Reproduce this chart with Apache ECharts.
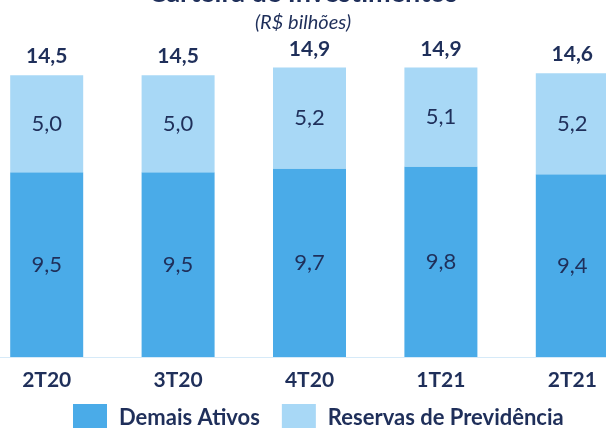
<!DOCTYPE html>
<html>
<head>
<meta charset="utf-8">
<script src="https://cdn.jsdelivr.net/npm/echarts@6/dist/echarts.min.js"></script>
<style>
  html, body { margin: 0; padding: 0; background: #ffffff; }
  #chart { width: 606px; height: 428px; }
</style>
</head>
<body>
<div id="chart"></div>
<script>
// Quarters shown on the x axis
var quarters = ['2T20', '3T20', '4T20', '1T21', '2T21'];
// Portfolio split, R$ billions
var demaisAtivos = [9.5, 9.5, 9.7, 9.8, 9.4];
var reservasPrevidencia = [5.0, 5.0, 5.2, 5.1, 5.2];

var totals = demaisAtivos.map(function (v, i) {
  return Math.round((v + reservasPrevidencia[i]) * 10) / 10;
});

var navy = '#1F2F5A';
var fontFamily = 'Lato, "Open Sans", sans-serif';

function fmt(v) {
  return v.toFixed(1).replace('.', ',');
}

var chart = echarts.init(document.getElementById('chart'), null, { renderer: 'canvas' });

chart.setOption({
  animation: false,
  textStyle: { fontFamily: fontFamily, color: navy },
  title: [
    {
      text: 'Carteira de Investimentos',
      left: 'center',
      top: -25,
      textStyle: { fontFamily: fontFamily, fontSize: 27, fontWeight: 'bold', color: navy }
    },
    {
      text: '(R$ bilhões)',
      left: 'center',
      top: 8,
      textStyle: { fontFamily: fontFamily, fontSize: 20, fontStyle: 'italic', fontWeight: 'normal', color: navy }
    }
  ],
  legend: {
    top: 404,
    left: 73,
    padding: 0,
    itemWidth: 34,
    itemHeight: 28,
    itemGap: 22,
    icon: 'rect',
    data: ['Demais Ativos', 'Reservas de Previdência'],
    textStyle: { fontFamily: fontFamily, fontSize: 22, fontWeight: 'bold', color: navy, padding: [0, 0, 0, 7] }
  },
  grid: { left: -19, width: 657, top: 46, bottom: 71, containLabel: false, outerBoundsMode: 'none' },
  xAxis: {
    type: 'category',
    data: quarters,
    axisTick: { show: false },
    axisLine: { show: true, lineStyle: { color: '#D6EAF8', width: 1 } },
    axisLabel: { margin: 13, fontFamily: fontFamily, fontSize: 21, fontWeight: 'bold', color: navy }
  },
  yAxis: {
    type: 'value',
    min: 0,
    max: 16,
    show: false,
    splitLine: { show: false }
  },
  series: [
    {
      name: 'Demais Ativos',
      type: 'bar',
      stack: 'total',
      barWidth: 73,
      data: demaisAtivos,
      itemStyle: { color: '#4AABE8' },
      label: {
        show: true,
        position: 'inside',
        fontFamily: fontFamily,
        fontSize: 22,
        color: navy,
        formatter: function (p) { return fmt(p.value); }
      }
    },
    {
      name: 'Reservas de Previdência',
      type: 'bar',
      stack: 'total',
      barWidth: 73,
      data: reservasPrevidencia,
      itemStyle: { color: '#A8D8F6' },
      label: {
        show: true,
        position: 'inside',
        fontFamily: fontFamily,
        fontSize: 22,
        color: navy,
        formatter: function (p) { return fmt(p.value); }
      }
    },
    {
      name: 'Total',
      type: 'bar',
      stack: 'total',
      barWidth: 73,
      data: totals.map(function () { return 0; }),
      itemStyle: { color: 'transparent' },
      label: {
        show: true,
        position: 'top',
        distance: 8,
        fontFamily: fontFamily,
        fontSize: 21,
        fontWeight: 'bold',
        color: navy,
        formatter: function (p) { return fmt(totals[p.dataIndex]); }
      }
    }
  ]
});
</script>
</body>
</html>
